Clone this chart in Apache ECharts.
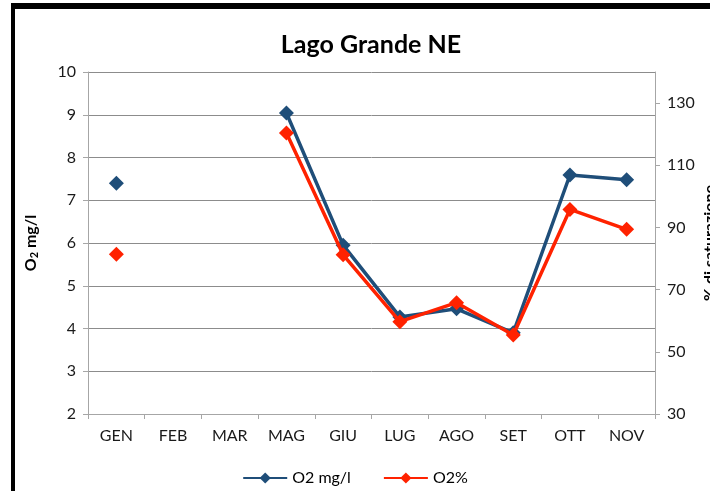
<!DOCTYPE html>
<html>
<head>
<meta charset="utf-8">
<script src="https://cdn.jsdelivr.net/npm/echarts@6/dist/echarts.min.js"></script>
<style>
  html, body { margin: 0; padding: 0; background: #fff; }
  #main { width: 710px; height: 491px; }
  .frame {
    position: absolute; left: 11px; top: 3px; right: 0; bottom: 0;
    border-top: 6px solid #000; border-left: 4px solid #000;
    pointer-events: none;
  }
</style>
</head>
<body>
<div id="main"></div>
<div class="frame"></div>
<script>
// mesi di campionamento
var mesi = ['GEN', 'FEB', 'MAR', 'MAG', 'GIU', 'LUG', 'AGO', 'SET', 'OTT', 'NOV']
// ossigeno disciolto (mg/l), asse sinistro
var o2mg = [7.40, null, null, 9.04, 5.95, 4.27, 4.46, 3.90, 7.59, 7.48]
// saturazione (%), asse destro
var o2perc = [81.4, null, null, 120.4, 81.2, 59.7, 65.8, 55.4, 95.8, 89.4]
var tickSat = [30, 50, 70, 90, 110, 130]

var FONT = 'Lato, "Open Sans", sans-serif'
var oChart = echarts.init(document.getElementById('main'))

var opt = {
  animation: false,
  title: {
    text: 'Lago Grande NE',
    left: 366,
    textAlign: 'center',
    top: 27,
    textStyle: { fontFamily: FONT, fontSize: 25, fontWeight: 'bold', color: '#000' }
  },
  legend: {
    bottom: 0,
    left: 'center',
    itemWidth: 44,
    itemHeight: 14,
    itemGap: 32,
    textStyle: { fontFamily: FONT, fontSize: 16, color: '#000' },
    data: ['O2 mg/l', 'O2%']
  },
  grid: { left: 88, right: 55, top: 72, bottom: 77, outerBoundsMode: 'none' },
  xAxis: {
    type: 'category',
    data: mesi,
    axisLine: { lineStyle: { color: '#a6a6a6', width: 1 } },
    axisTick: { show: true, length: 5, lineStyle: { color: '#a6a6a6' } },
    axisLabel: { fontFamily: FONT, fontSize: 16, color: '#1a1a1a', margin: 14 }
  },
  yAxis: [
    {
      type: 'value',
      min: 2,
      max: 10,
      interval: 1,
      name: '{a|O}{s|2}{a| mg/l}',
      nameLocation: 'middle',
      nameRotate: 90,
      nameGap: 48,
      nameTextStyle: {
        rich: {
          a: { fontFamily: FONT, fontSize: 16, fontWeight: 'bold', color: '#000' },
          s: { fontFamily: FONT, fontSize: 11, fontWeight: 'bold', color: '#000', padding: [8, 0, 0, 0] }
        }
      },
      axisLine: { show: true, lineStyle: { color: '#a6a6a6' } },
      axisTick: { show: true, length: 5, lineStyle: { color: '#a6a6a6' } },
      axisLabel: { fontFamily: FONT, fontSize: 16, color: '#1a1a1a', margin: 12 },
      splitLine: { lineStyle: { color: '#8c8c8c', width: 1 } }
    },
    {
      type: 'value',
      position: 'right',
      min: 30,
      max: 140,
      name: '% di saturazione',
      nameLocation: 'middle',
      nameRotate: 90,
      nameGap: 47,
      nameMoveOverlap: false,
      nameTextStyle: { fontFamily: FONT, fontSize: 16, fontWeight: 'bold', color: '#000' },
      axisLine: { show: true, lineStyle: { color: '#a6a6a6' } },
      axisTick: { show: true, length: 5, customValues: tickSat, lineStyle: { color: '#a6a6a6' } },
      axisLabel: { fontFamily: FONT, fontSize: 16, color: '#1a1a1a', margin: 12, customValues: tickSat },
      splitLine: { show: false }
    }
  ],
  series: [
    {
      name: 'O2 mg/l',
      type: 'line',
      yAxisIndex: 0,
      data: o2mg,
      symbol: 'diamond',
      symbolSize: 15,
      showSymbol: true,
      showAllSymbol: true,
      connectNulls: false,
      lineStyle: { color: '#1f4e79', width: 3.5 },
      itemStyle: { color: '#1f4e79' },
      z: 2
    },
    {
      name: 'O2%',
      type: 'line',
      yAxisIndex: 1,
      data: o2perc,
      symbol: 'diamond',
      symbolSize: 15,
      showSymbol: true,
      showAllSymbol: true,
      connectNulls: false,
      lineStyle: { color: '#ff2200', width: 3.5 },
      itemStyle: { color: '#ff2200' },
      z: 3
    }
  ]
}

oChart.setOption(opt)
</script>
</body>
</html>
